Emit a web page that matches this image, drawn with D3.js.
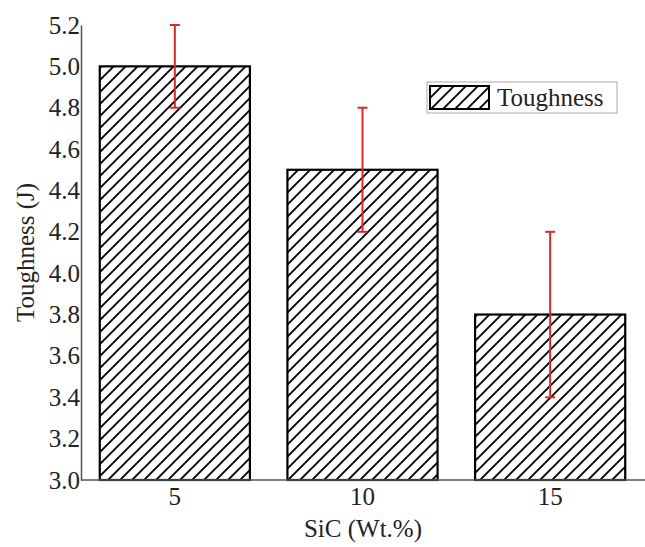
<!DOCTYPE html>
<html>
<head>
<meta charset="utf-8">
<script src="https://cdn.jsdelivr.net/npm/d3@7"></script>
<style>
  body { margin: 0; background: #fff; }
  svg { display: block; }
</style>
</head>
<body>
<div class="chart"></div>
<script>
// data
const categories = ['5', '10', '15'];
const toughness = [5.0, 4.5, 3.8];
const errLow = [4.8, 4.2, 3.4];
const errHigh = [5.2, 4.8, 4.2];
const yTicks = [3.0, 3.2, 3.4, 3.6, 3.8, 4.0, 4.2, 4.4, 4.6, 4.8, 5.0, 5.2];

const width = 645;
const height = 547;
const margin = { top: 25, right: 1, bottom: 67, left: 81 };
const serif = 'Liberation Serif';

const svg = d3.select('.chart')
  .append('svg')
  .attr('width', width)
  .attr('height', height)
  .style('font-family', serif);

// hatch pattern
const defs = svg.append('defs');
const pat = defs.append('pattern')
  .attr('id', 'hatch')
  .attr('patternUnits', 'userSpaceOnUse')
  .attr('width', 12)
  .attr('height', 12);
pat.append('path')
  .attr('d', 'M-3,3 L3,-3 M0,12 L12,0 M9,15 L15,9')
  .attr('stroke', '#000')
  .attr('stroke-width', 1.9);

const x = d3.scaleBand()
  .domain(categories)
  .range([margin.left, width - margin.right])
  .paddingInner(0.2)
  .paddingOuter(0.1);

const y = d3.scaleLinear()
  .domain([3.0, 5.2])
  .range([height - margin.bottom, margin.top]);

// bars
svg.append('g')
  .selectAll('rect')
  .data(toughness)
  .join('rect')
  .attr('x', (d, i) => x(categories[i]))
  .attr('y', d => y(d))
  .attr('width', x.bandwidth())
  .attr('height', d => y(3.0) - y(d))
  .attr('fill', 'url(#hatch)')
  .attr('stroke', '#000')
  .attr('stroke-width', 2.2);

// error bars
const eb = svg.append('g')
  .attr('stroke', '#d42b2b')
  .attr('stroke-width', 2);
categories.forEach((c, i) => {
  const cx = x(c) + x.bandwidth() / 2;
  eb.append('line')
    .attr('x1', cx).attr('x2', cx)
    .attr('y1', y(errLow[i])).attr('y2', y(errHigh[i]));
  eb.append('line')
    .attr('x1', cx - 5).attr('x2', cx + 5)
    .attr('y1', y(errLow[i])).attr('y2', y(errLow[i]));
  eb.append('line')
    .attr('x1', cx - 5).attr('x2', cx + 5)
    .attr('y1', y(errHigh[i])).attr('y2', y(errHigh[i]));
});

// y axis
const yAxis = svg.append('g')
  .attr('transform', `translate(${margin.left},0)`)
  .call(d3.axisLeft(y).tickValues(yTicks).tickFormat(d3.format('.1f')).tickSize(0).tickPadding(1));
yAxis.attr('font-family', serif);
yAxis.select('.domain').attr('stroke', '#555').attr('stroke-width', 1.5);
yAxis.selectAll('text')
  .style('font-family', serif)
  .attr('font-size', 25)
  .attr('fill', '#222');

// x axis
const xAxis = svg.append('g')
  .attr('transform', `translate(0,${height - margin.bottom})`)
  .call(d3.axisBottom(x).tickSize(0).tickPadding(7));
xAxis.attr('font-family', serif);
xAxis.select('.domain')
  .attr('d', `M${margin.left},0H${width}`)
  .attr('stroke', '#555').attr('stroke-width', 1.5);
xAxis.selectAll('text')
  .style('font-family', serif)
  .attr('font-size', 25)
  .attr('fill', '#222');

// axis titles
svg.append('text')
  .attr('transform', `translate(34,${(margin.top + height - margin.bottom) / 2}) rotate(-90)`)
  .attr('text-anchor', 'middle')
  .style('font-family', serif)
  .attr('font-size', 25)
  .attr('fill', '#222')
  .text('Toughness (J)');

svg.append('text')
  .attr('x', (margin.left + width) / 2)
  .attr('y', 537)
  .attr('text-anchor', 'middle')
  .style('font-family', serif)
  .attr('font-size', 25)
  .attr('fill', '#222')
  .text('SiC (Wt.%)');

// legend
const lg = svg.append('g');
lg.append('rect')
  .attr('x', 427).attr('y', 82)
  .attr('width', 190).attr('height', 31)
  .attr('fill', '#fff')
  .attr('stroke', '#aaa')
  .attr('stroke-width', 1);
lg.append('rect')
  .attr('x', 430).attr('y', 86)
  .attr('width', 59).attr('height', 23)
  .attr('fill', 'url(#hatch)')
  .attr('stroke', '#000')
  .attr('stroke-width', 2);
lg.append('text')
  .attr('x', 497).attr('y', 106)
  .style('font-family', serif)
  .attr('font-size', 25)
  .attr('fill', '#222')
  .text('Toughness');
</script>
</body>
</html>
